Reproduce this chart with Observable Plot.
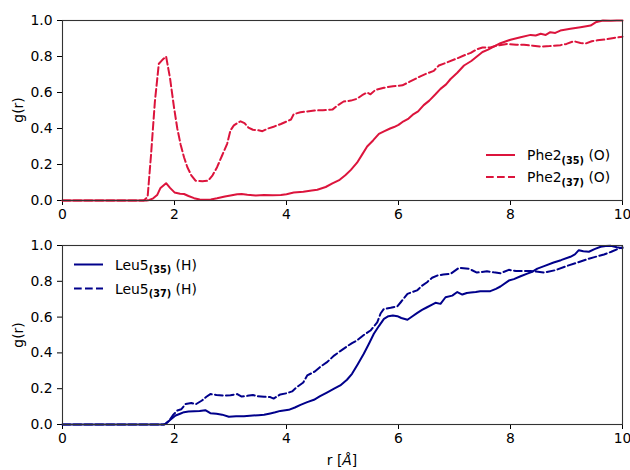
<!DOCTYPE html>
<html>
<head>
<meta charset="utf-8">
<script src="https://cdn.jsdelivr.net/npm/d3@7"></script>
<script src="https://cdn.jsdelivr.net/npm/@observablehq/plot@0.6"></script>
<style>
  body { margin: 0; background: white; }
  #chart svg { display: block; }
</style>
</head>
<body>
<div id="chart"></div>
<script>
// ---- data: [r (Å), g(r)] ----
const xTicks = [0, 2, 4, 6, 8, 10];
const yTicks = [0, 0.2, 0.4, 0.6, 0.8, 1.0];

const phe35 = [[0,0],[1.5,0],[1.55,0.003],[1.62,0.012],[1.69,0.03],[1.75,0.07],[1.85,0.096],[1.92,0.07],[2.0,0.045],[2.1,0.038],[2.17,0.036],[2.25,0.025],[2.35,0.013],[2.45,0.006],[2.55,0.004],[2.65,0.005],[2.76,0.012],[2.9,0.022],[3.0,0.028],[3.12,0.035],[3.2,0.036],[3.3,0.032],[3.45,0.028],[3.6,0.03],[3.75,0.029],[3.9,0.03],[4.0,0.035],[4.13,0.044],[4.3,0.048],[4.45,0.055],[4.55,0.06],[4.7,0.075],[4.82,0.095],[4.95,0.115],[5.05,0.14],[5.15,0.17],[5.26,0.21],[5.35,0.255],[5.44,0.3],[5.55,0.335],[5.65,0.37],[5.75,0.385],[5.85,0.4],[5.92,0.408],[6.0,0.42],[6.09,0.44],[6.18,0.455],[6.27,0.48],[6.35,0.495],[6.45,0.53],[6.55,0.555],[6.66,0.59],[6.75,0.62],[6.85,0.645],[6.93,0.675],[7.05,0.71],[7.17,0.75],[7.3,0.775],[7.4,0.8],[7.5,0.825],[7.6,0.838],[7.7,0.855],[7.82,0.874],[8.0,0.893],[8.18,0.907],[8.36,0.92],[8.45,0.917],[8.54,0.926],[8.63,0.92],[8.71,0.935],[8.8,0.931],[8.89,0.944],[9.07,0.954],[9.25,0.963],[9.43,0.972],[9.52,0.99],[9.65,1.0],[9.79,0.998],[9.9,1.0],[10,1.0]];

const phe37 = [[0,0],[1.45,0],[1.52,0.02],[1.58,0.25],[1.65,0.55],[1.72,0.76],[1.78,0.78],[1.85,0.80],[1.92,0.68],[1.99,0.52],[2.05,0.40],[2.11,0.31],[2.17,0.24],[2.23,0.185],[2.3,0.14],[2.375,0.11],[2.5,0.107],[2.6,0.11],[2.68,0.14],[2.76,0.185],[2.85,0.25],[2.94,0.315],[3.0,0.39],[3.06,0.417],[3.12,0.43],[3.18,0.44],[3.25,0.43],[3.32,0.405],[3.4,0.393],[3.5,0.39],[3.57,0.385],[3.67,0.4],[3.77,0.41],[3.9,0.425],[4.01,0.44],[4.08,0.45],[4.13,0.48],[4.25,0.49],[4.37,0.495],[4.5,0.5],[4.65,0.502],[4.82,0.505],[4.92,0.53],[5.02,0.55],[5.15,0.555],[5.26,0.565],[5.35,0.585],[5.44,0.60],[5.5,0.59],[5.59,0.615],[5.74,0.626],[5.9,0.635],[6.07,0.64],[6.2,0.66],[6.39,0.69],[6.5,0.705],[6.63,0.72],[6.72,0.75],[6.85,0.765],[7.05,0.79],[7.2,0.81],[7.29,0.82],[7.4,0.84],[7.5,0.85],[7.64,0.85],[7.75,0.86],[7.94,0.87],[8.1,0.865],[8.24,0.865],[8.4,0.86],[8.54,0.855],[8.7,0.858],[8.89,0.863],[9.0,0.87],[9.13,0.885],[9.25,0.875],[9.34,0.872],[9.45,0.885],[9.55,0.89],[9.7,0.895],[9.79,0.90],[9.88,0.905],[10,0.91]];

const leu35 = [[0,0],[1.8,0],[1.85,0.005],[1.92,0.025],[2.02,0.05],[2.1,0.06],[2.17,0.069],[2.25,0.072],[2.35,0.074],[2.45,0.075],[2.55,0.08],[2.64,0.063],[2.75,0.06],[2.85,0.055],[2.97,0.043],[3.1,0.046],[3.24,0.046],[3.4,0.05],[3.5,0.052],[3.6,0.054],[3.71,0.062],[3.8,0.068],[3.89,0.076],[4.04,0.082],[4.15,0.095],[4.25,0.11],[4.37,0.125],[4.49,0.138],[4.6,0.158],[4.73,0.18],[4.85,0.2],[4.96,0.218],[5.08,0.25],[5.17,0.283],[5.27,0.335],[5.38,0.395],[5.47,0.45],[5.56,0.507],[5.65,0.55],[5.74,0.59],[5.82,0.605],[5.9,0.609],[5.98,0.605],[6.05,0.595],[6.16,0.585],[6.25,0.605],[6.33,0.622],[6.42,0.64],[6.51,0.655],[6.6,0.67],[6.66,0.68],[6.75,0.674],[6.84,0.711],[6.96,0.72],[7.05,0.74],[7.14,0.726],[7.22,0.735],[7.29,0.737],[7.38,0.74],[7.46,0.745],[7.55,0.745],[7.64,0.745],[7.74,0.758],[7.82,0.771],[7.97,0.804],[8.06,0.812],[8.18,0.828],[8.3,0.843],[8.4,0.855],[8.48,0.871],[8.6,0.885],[8.77,0.905],[8.9,0.918],[9.07,0.937],[9.15,0.95],[9.22,0.974],[9.3,0.968],[9.4,0.965],[9.5,0.98],[9.61,0.993],[9.7,0.997],[9.79,0.998],[9.9,0.99],[10,0.985]];

const leu37 = [[0,0],[1.82,0],[1.9,0.02],[1.98,0.055],[2.05,0.078],[2.12,0.085],[2.2,0.115],[2.3,0.12],[2.38,0.113],[2.49,0.134],[2.57,0.155],[2.64,0.17],[2.75,0.165],[2.88,0.162],[3.0,0.163],[3.12,0.17],[3.2,0.156],[3.3,0.16],[3.4,0.165],[3.48,0.158],[3.6,0.155],[3.71,0.153],[3.77,0.145],[3.89,0.168],[4.01,0.175],[4.1,0.185],[4.19,0.21],[4.3,0.235],[4.37,0.274],[4.5,0.295],[4.61,0.324],[4.73,0.35],[4.85,0.385],[4.96,0.41],[5.08,0.436],[5.17,0.455],[5.26,0.47],[5.38,0.5],[5.5,0.525],[5.62,0.57],[5.68,0.62],[5.74,0.646],[5.86,0.652],[5.98,0.66],[6.04,0.683],[6.16,0.73],[6.33,0.749],[6.42,0.775],[6.51,0.795],[6.6,0.82],[6.69,0.832],[6.8,0.838],[6.93,0.842],[7.08,0.875],[7.26,0.87],[7.4,0.849],[7.58,0.856],[7.7,0.85],[7.82,0.845],[7.97,0.864],[8.1,0.857],[8.36,0.858],[8.6,0.849],[8.8,0.862],[9.01,0.886],[9.2,0.905],[9.37,0.923],[9.5,0.935],[9.67,0.95],[9.8,0.965],[9.93,0.983],[10,0.99]];

const topLegend = [
  {base: "Phe2", sub: "(35)", tail: " (O)", dashed: false},
  {base: "Phe2", sub: "(37)", tail: " (O)", dashed: true}
];
const botLegend = [
  {base: "Leu5", sub: "(35)", tail: " (H)", dashed: false},
  {base: "Leu5", sub: "(37)", tail: " (H)", dashed: true}
];

const RED = "#dc143c";
const BLUE = "#00008b";
const DASH = "7.7,3.3";
const LW = 2;
const FONT = "DejaVu Sans";
const FS = 13.9;

function panel(series, color, height, marginBottom) {
  return Plot.plot({
    width: 630,
    height,
    marginLeft: 62,
    marginRight: 8,
    marginTop: 20,
    marginBottom,
    style: {fontFamily: FONT, fontSize: FS + "px", color: "black", background: "white", overflow: "visible"},
    x: {domain: [0, 10], ticks: xTicks, tickSize: 5, tickPadding: 4, label: null},
    y: {domain: [0, 1], ticks: yTicks, tickFormat: d => d.toFixed(1), tickSize: 5, tickPadding: 5, label: null},
    marks: [
      Plot.line(series[0], {x: d => d[0], y: d => d[1], stroke: color, strokeWidth: LW}),
      Plot.line(series[1], {x: d => d[0], y: d => d[1], stroke: color, strokeWidth: LW, strokeDasharray: DASH}),
      Plot.frame({stroke: "#333", strokeWidth: 1.1})
    ]
  });
}

function addYLabel(svg, cy) {
  d3.select(svg).append("text")
    .attr("transform", `translate(18,${cy}) rotate(-90)`)
    .attr("text-anchor", "middle")
    .attr("dominant-baseline", "central")
    .attr("font-family", FONT).attr("font-size", FS)
    .attr("fill", "black")
    .text("g(r)");
}

function addLegend(svg, items, color, x0, y0, dy) {
  const g = d3.select(svg).append("g");
  items.forEach((it, i) => {
    const y = y0 + i * dy;
    g.append("line")
      .attr("x1", x0).attr("x2", x0 + 29).attr("y1", y).attr("y2", y)
      .attr("stroke", color).attr("stroke-width", LW)
      .attr("stroke-dasharray", it.dashed ? DASH : null);
    const t = g.append("text")
      .attr("x", x0 + 41).attr("y", y + 5)
      .attr("text-anchor", "start")
      .attr("font-family", FONT).attr("font-size", FS).attr("fill", "black");
    t.append("tspan").text(it.base);
    t.append("tspan").attr("dy", 3.5).attr("font-size", FS * 0.7).attr("font-weight", "bold").text(it.sub);
    t.append("tspan").attr("dy", -3.5).text(it.tail);
  });
}

const topPanel = panel([phe35, phe37], RED, 225, 25);
addYLabel(topPanel, 110);
addLegend(topPanel, topLegend, RED, 486, 155, 22);

const botPanel = panel([leu35, leu37], BLUE, 245, 46);
addYLabel(botPanel, 110);
addLegend(botPanel, botLegend, BLUE, 74, 39.5, 24);

const xl = d3.select(botPanel).append("text")
  .attr("x", 342).attr("y", 240)
  .attr("text-anchor", "middle")
  .attr("font-family", FONT).attr("font-size", FS).attr("fill", "black");
xl.append("tspan").text("r [");
xl.append("tspan").attr("font-style", "italic").text("Å");
xl.append("tspan").text("]");

document.getElementById("chart").append(topPanel, botPanel);
</script>
</body>
</html>
